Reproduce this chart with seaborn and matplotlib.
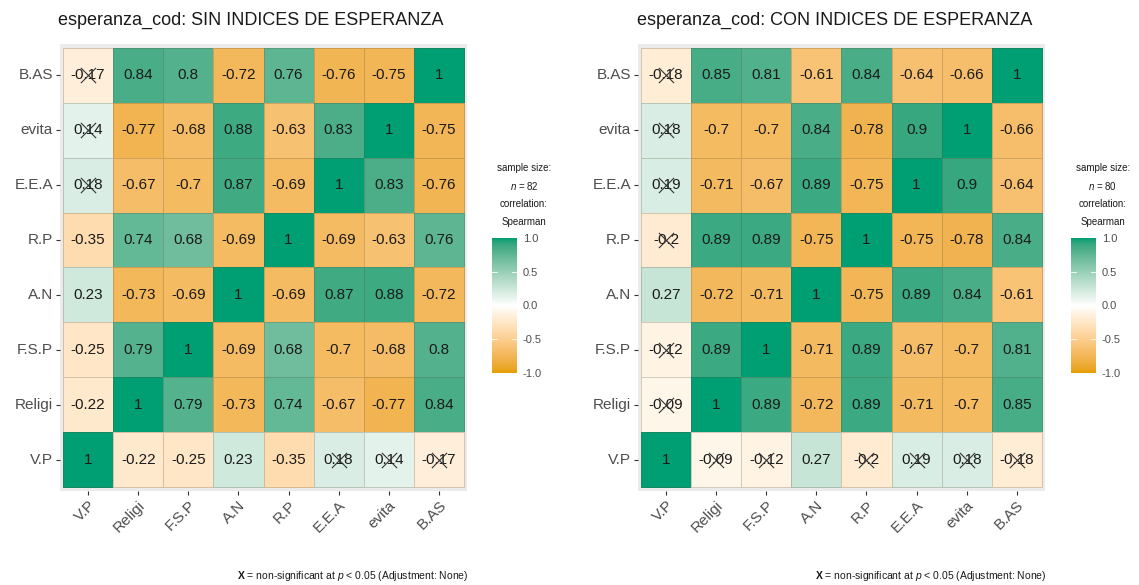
import numpy as np
import pandas as pd
import matplotlib
matplotlib.use("Agg")
import matplotlib.pyplot as plt
from matplotlib.colors import ListedColormap, to_rgb
import seaborn as sns

plt.rcParams["font.family"] = ["Liberation Sans", "DejaVu Sans"]
plt.rcParams["mathtext.fontset"] = "custom"
plt.rcParams["mathtext.rm"] = "Liberation Sans"
plt.rcParams["mathtext.it"] = "Liberation Sans:italic"
plt.rcParams["mathtext.bf"] = "Liberation Sans:bold"

variables = ["V.P", "Religi", "F.S.P", "A.N", "R.P", "E.E.A", "evita", "B.AS"]

# Spearman correlations, rows/cols in the order of `variables`
corr_sin = [
    [1, -0.22, -0.25, 0.23, -0.35, 0.18, 0.14, -0.17],
    [-0.22, 1, 0.79, -0.73, 0.74, -0.67, -0.77, 0.84],
    [-0.25, 0.79, 1, -0.69, 0.68, -0.7, -0.68, 0.8],
    [0.23, -0.73, -0.69, 1, -0.69, 0.87, 0.88, -0.72],
    [-0.35, 0.74, 0.68, -0.69, 1, -0.69, -0.63, 0.76],
    [0.18, -0.67, -0.7, 0.87, -0.69, 1, 0.83, -0.76],
    [0.14, -0.77, -0.68, 0.88, -0.63, 0.83, 1, -0.75],
    [-0.17, 0.84, 0.8, -0.72, 0.76, -0.76, -0.75, 1],
]
corr_con = [
    [1, -0.09, -0.12, 0.27, -0.2, 0.19, 0.18, -0.18],
    [-0.09, 1, 0.89, -0.72, 0.89, -0.71, -0.7, 0.85],
    [-0.12, 0.89, 1, -0.71, 0.89, -0.67, -0.7, 0.81],
    [0.27, -0.72, -0.71, 1, -0.75, 0.89, 0.84, -0.61],
    [-0.2, 0.89, 0.89, -0.75, 1, -0.75, -0.78, 0.84],
    [0.19, -0.71, -0.67, 0.89, -0.75, 1, 0.9, -0.64],
    [0.18, -0.7, -0.7, 0.84, -0.78, 0.9, 1, -0.66],
    [-0.18, 0.85, 0.81, -0.61, 0.84, -0.64, -0.66, 1],
]
# pairs that are non-significant at p < 0.05
nonsig_sin = [("V.P", "E.E.A"), ("V.P", "evita"), ("V.P", "B.AS")]
nonsig_con = [("V.P", "Religi"), ("V.P", "F.S.P"), ("V.P", "R.P"),
              ("V.P", "E.E.A"), ("V.P", "evita"), ("V.P", "B.AS")]
sample_sizes = [82, 80]
titles = ["esperanza_cod: SIN INDICES DE ESPERANZA",
          "esperanza_cod: CON INDICES DE ESPERANZA"]


def srgb_to_lab(rgb):
    rgb = np.asarray(rgb, dtype=float)
    lin = np.where(rgb <= 0.04045, rgb / 12.92, ((rgb + 0.055) / 1.055) ** 2.4)
    m = np.array([[0.4124, 0.3576, 0.1805],
                  [0.2126, 0.7152, 0.0722],
                  [0.0193, 0.1192, 0.9505]])
    xyz = m @ lin / np.array([0.95047, 1.0, 1.08883])
    f = np.where(xyz > 0.008856, np.cbrt(xyz), 7.787 * xyz + 16 / 116)
    return np.array([116 * f[1] - 16, 500 * (f[0] - f[1]), 200 * (f[1] - f[2])])


def lab_to_srgb(lab):
    L, a, b = lab
    fy = (L + 16) / 116
    f = np.array([fy + a / 500, fy, fy - b / 200])
    xyz = np.where(f ** 3 > 0.008856, f ** 3, (f - 16 / 116) / 7.787)
    xyz = xyz * np.array([0.95047, 1.0, 1.08883])
    m = np.array([[3.2406, -1.5372, -0.4986],
                  [-0.9689, 1.8758, 0.0415],
                  [0.0557, -0.2040, 1.0570]])
    lin = m @ xyz
    rgb = np.where(lin <= 0.0031308, 12.92 * lin, 1.055 * np.clip(lin, 0, None) ** (1 / 2.4) - 0.055)
    return np.clip(rgb, 0, 1)


def lab_cmap(low, mid, high, n=256):
    stops = [srgb_to_lab(to_rgb(c)) for c in (low, mid, high)]
    out = []
    for t in np.linspace(0, 1, n):
        if t < 0.5:
            u = t / 0.5
            lab = stops[0] * (1 - u) + stops[1] * u
        else:
            u = (t - 0.5) / 0.5
            lab = stops[1] * (1 - u) + stops[2] * u
        out.append(lab_to_srgb(lab))
    return ListedColormap(out)


cmap = lab_cmap("#E69F00", "white", "#009E73")
grey_txt = "#4d4d4d"

fig = plt.figure(figsize=(11.39, 5.85), dpi=100)

panels = [
    (corr_sin, nonsig_sin, [0.0527, 0.1607, 0.3573, 0.7641], [0.432, 0.3624, 0.022, 0.2308], 0.051, 0.411),
    (corr_con, nonsig_con, [0.5601, 0.1607, 0.3573, 0.7641], [0.9403, 0.3624, 0.022, 0.2308], 0.559, 0.919),
]

for i, (corr, nonsig, ax_pos, cb_pos, title_x, caption_x) in enumerate(panels):
    df = pd.DataFrame(corr, index=variables, columns=variables)
    df = df.iloc[::-1]  # B.AS on top, V.P at bottom
    labels = df.map(lambda v: f"{v:g}")

    ax = fig.add_axes(ax_pos)
    cax = fig.add_axes(cb_pos)
    ax.set_facecolor("#ebebeb")
    sns.heatmap(df, ax=ax, cbar_ax=cax, cmap=cmap, vmin=-1, vmax=1,
                annot=labels, fmt="", annot_kws={"size": 11, "color": "#1a1a1a"},
                linewidths=0.6, linecolor=(0.35, 0.3, 0.2, 0.25))
    ax.set_xlim(-0.06, len(variables) + 0.06)
    ax.set_ylim(len(variables) + 0.07, -0.07)
    ax.set_xlabel("")
    ax.set_ylabel("")
    ax.set_xticklabels(df.columns, rotation=45, ha="right", rotation_mode="anchor",
                       fontsize=11, color=grey_txt)
    ax.set_yticklabels(df.index, rotation=0, fontsize=11, color=grey_txt)
    ax.tick_params(length=3, width=0.8, color="#333333", pad=2)
    for s in ax.spines.values():
        s.set_visible(False)

    # crosses over non-significant cells
    rows = list(df.index)
    cols = list(df.columns)
    xs, ys = [], []
    for a, b in nonsig:
        for r, c in [(a, b), (b, a)]:
            xs.append(cols.index(c) + 0.5)
            ys.append(rows.index(r) + 0.5)
    ax.scatter(xs, ys, marker="x", s=120, color="#333333", linewidths=0.8, zorder=5)

    # colourbar styling
    cax.set_yticks([-1, -0.5, 0, 0.5, 1])
    cax.set_yticklabels(["-1.0", "-0.5", "0.0", "0.5", "1.0"], fontsize=8, color=grey_txt)
    cax.tick_params(length=0, pad=4)
    for s in cax.spines.values():
        s.set_visible(False)
    for t in [-0.5, 0, 0.5]:
        cax.axhline(t, xmin=0, xmax=0.2, color="white", lw=0.6)
        cax.axhline(t, xmin=0.8, xmax=1, color="white", lw=0.6)

    cx = cb_pos[0] + 0.028
    legend_lines = ["sample size:", rf"$\it{{n}}$ = {sample_sizes[i]}",
                    "correlation:", "Spearman"]
    for k, line in enumerate(legend_lines):
        fig.text(cx, 1 - (168 + 18 * k) / 585, line, ha="center", va="center",
                 fontsize=7, color="#1a1a1a")

    fig.text(title_x, 1 - 20 / 585, titles[i], ha="left", va="center",
             fontsize=13, color="#1a1a1a")
    fig.text(caption_x, 1 - 576 / 585,
             r"$\bf{X}$ = non-significant at $\it{p}$ < 0.05 (Adjustment: None)",
             ha="right", va="center", fontsize=7.5, color="#1a1a1a")

fig.savefig("out.png", dpi=100)
